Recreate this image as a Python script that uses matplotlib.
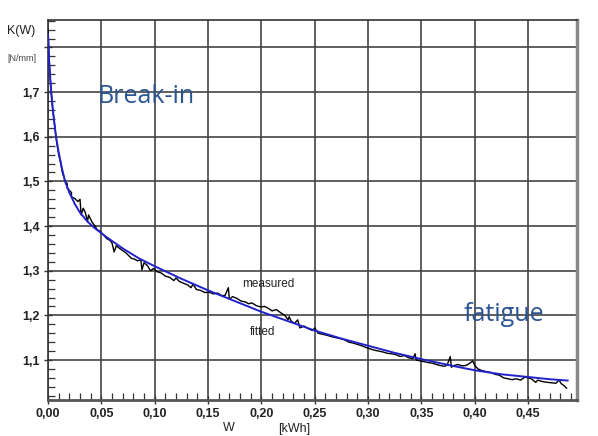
import matplotlib
matplotlib.use("Agg")
import matplotlib.pyplot as plt
from matplotlib.ticker import MultipleLocator

# measured K(W) (black, stepped) and fitted curve (blue)
measured_w = [0.000, 0.001, 0.002, 0.003, 0.004, 0.005, 0.006, 0.007, 0.008, 0.009,
              0.010, 0.011, 0.012, 0.013, 0.014, 0.015, 0.016, 0.018, 0.018, 0.020,
              0.022, 0.022, 0.025, 0.028, 0.030, 0.031, 0.033, 0.035, 0.037, 0.038,
              0.041, 0.044, 0.046, 0.049, 0.052, 0.055, 0.058, 0.060, 0.062, 0.064,
              0.067, 0.070, 0.073, 0.076, 0.078, 0.081, 0.084, 0.087, 0.088, 0.090,
              0.093, 0.096, 0.099, 0.102, 0.106, 0.110, 0.114, 0.118, 0.120, 0.123,
              0.127, 0.131, 0.134, 0.136, 0.139, 0.143, 0.147, 0.151, 0.155, 0.159,
              0.163, 0.166, 0.169, 0.170, 0.173, 0.177, 0.181, 0.185, 0.188, 0.191,
              0.195, 0.199, 0.203, 0.207, 0.210, 0.214, 0.218, 0.222, 0.225, 0.226,
              0.228, 0.231, 0.234, 0.236, 0.240, 0.244, 0.248, 0.250, 0.253, 0.257,
              0.262, 0.266, 0.270, 0.274, 0.278, 0.282, 0.286, 0.290, 0.294, 0.298,
              0.302, 0.306, 0.310, 0.314, 0.318, 0.322, 0.326, 0.330, 0.334, 0.338,
              0.342, 0.344, 0.345, 0.349, 0.353, 0.357, 0.360, 0.364, 0.367, 0.371,
              0.374, 0.377, 0.378, 0.381, 0.384, 0.388, 0.392, 0.396, 0.398, 0.400,
              0.403, 0.407, 0.411, 0.415, 0.419, 0.423, 0.427, 0.431, 0.435, 0.439,
              0.443, 0.447, 0.450, 0.453, 0.457, 0.459, 0.463, 0.468, 0.472, 0.476,
              0.479, 0.481, 0.484, 0.486]
measured_k = [1.840, 1.780, 1.730, 1.700, 1.670, 1.650, 1.630, 1.610, 1.590, 1.575,
              1.560, 1.550, 1.540, 1.525, 1.515, 1.510, 1.500, 1.495, 1.485, 1.480,
              1.475, 1.465, 1.462, 1.455, 1.460, 1.425, 1.440, 1.430, 1.410, 1.425,
              1.410, 1.400, 1.392, 1.388, 1.380, 1.372, 1.368, 1.362, 1.342, 1.356,
              1.350, 1.345, 1.340, 1.333, 1.328, 1.326, 1.322, 1.325, 1.302, 1.318,
              1.312, 1.300, 1.305, 1.298, 1.295, 1.288, 1.285, 1.278, 1.284, 1.276,
              1.272, 1.268, 1.262, 1.270, 1.258, 1.256, 1.251, 1.252, 1.248, 1.250,
              1.244, 1.245, 1.262, 1.236, 1.242, 1.238, 1.232, 1.230, 1.226, 1.228,
              1.222, 1.219, 1.220, 1.215, 1.210, 1.213, 1.206, 1.200, 1.190, 1.197,
              1.187, 1.182, 1.190, 1.172, 1.176, 1.170, 1.166, 1.172, 1.160, 1.158,
              1.155, 1.152, 1.150, 1.148, 1.145, 1.140, 1.138, 1.135, 1.132, 1.128,
              1.125, 1.122, 1.120, 1.118, 1.115, 1.114, 1.112, 1.108, 1.110, 1.105,
              1.103, 1.114, 1.100, 1.098, 1.096, 1.094, 1.093, 1.090, 1.088, 1.086,
              1.088, 1.108, 1.084, 1.088, 1.090, 1.087, 1.088, 1.094, 1.098, 1.088,
              1.080, 1.076, 1.074, 1.072, 1.068, 1.066, 1.060, 1.058, 1.056, 1.058,
              1.055, 1.062, 1.060, 1.058, 1.050, 1.055, 1.052, 1.050, 1.049, 1.048,
              1.055, 1.047, 1.042, 1.037]

fitted_w = [0.000, 0.001, 0.002, 0.003, 0.005, 0.0075, 0.010, 0.013, 0.016, 0.020,
            0.025, 0.030, 0.037, 0.044, 0.055, 0.070, 0.085, 0.100, 0.125, 0.150,
            0.175, 0.200, 0.225, 0.250, 0.275, 0.300, 0.325, 0.350, 0.375, 0.400,
            0.425, 0.450, 0.470, 0.487]
fitted_k = [1.830, 1.770, 1.735, 1.700, 1.650, 1.600, 1.565, 1.530, 1.500, 1.475,
            1.450, 1.430, 1.410, 1.395, 1.375, 1.350, 1.328, 1.310, 1.282, 1.256,
            1.232, 1.208, 1.187, 1.166, 1.148, 1.132, 1.116, 1.102, 1.089, 1.077,
            1.068, 1.062, 1.057, 1.054]

x_ticks = [0.00, 0.05, 0.10, 0.15, 0.20, 0.25, 0.30, 0.35, 0.40, 0.45]
x_labels = ["0,00", "0,05", "0,10", "0,15", "0,20", "0,25", "0,30", "0,35", "0,40", "0,45"]
y_ticks = [1.1, 1.2, 1.3, 1.4, 1.5, 1.6, 1.7]
y_labels = ["1,1", "1,2", "1,3", "1,4", "1,5", "1,6", "1,7"]

plt.rcParams["font.family"] = ["Liberation Sans", "DejaVu Sans"]

fig = plt.figure(figsize=(5.98, 4.36), dpi=100)
ax = fig.add_axes([0.0803, 0.0826, 0.885, 0.871])

ax.plot(measured_w, measured_k, color="black", lw=1.0, zorder=3)
ax.plot(fitted_w, fitted_k, color="#2222cc", lw=1.4, zorder=4)

ax.set_xlim(0, 0.496)
ax.set_ylim(1.0105, 1.861)

ax.set_xticks(x_ticks)
ax.set_xticklabels(x_labels)
ax.set_yticks(y_ticks + [1.8])
ax.set_yticklabels(y_labels + [""])
ax.xaxis.set_minor_locator(MultipleLocator(0.01))
ax.yaxis.set_minor_locator(MultipleLocator(0.02))

ax.grid(True, which="major", color="#444444", lw=1.2)
ax.tick_params(axis="both", which="major", direction="inout", length=6,
               width=1.0, color="#333333", labelsize=9, labelcolor="#222222",
               pad=3)
ax.tick_params(axis="both", which="minor", direction="in", length=5,
               width=0.9, color="#333333")
for lab in ax.get_xticklabels() + ax.get_yticklabels():
    lab.set_fontweight("bold")

for side in ["left", "top"]:
    ax.spines[side].set_color("#333333")
    ax.spines[side].set_linewidth(1.2)
ax.spines["bottom"].set_color("#555555")
ax.spines["bottom"].set_linewidth(2.0)
ax.spines["right"].set_color("#888888")
ax.spines["right"].set_linewidth(2.5)

fig.text(0.012, 0.930, "K(W)", fontsize=9, color="#222222", va="center")
fig.text(0.012, 0.865, "[N/mm]", fontsize=6.5, color="#444444", va="center")
fig.text(0.383, 0.018, "W", fontsize=9, color="#222222", ha="center", va="center")
fig.text(0.492, 0.015, "[kWh]", fontsize=9, color="#222222", ha="center", va="center")

ax.text(0.206, 1.270, "measured", fontsize=8.5, color="#222222", ha="center",
        va="center")
ax.text(0.201, 1.163, "fitted", fontsize=8.5, color="#222222", ha="center",
        va="center")

ax.text(0.092, 1.675, "Break-in", fontsize=18, color="#2b5592",
        family=["Open Sans", "DejaVu Sans"], ha="center", va="baseline")
ax.text(0.427, 1.187, "fatigue", fontsize=18, color="#2b5592",
        family=["Open Sans", "DejaVu Sans"], ha="center", va="baseline")

fig.savefig("out.png", dpi=100)
